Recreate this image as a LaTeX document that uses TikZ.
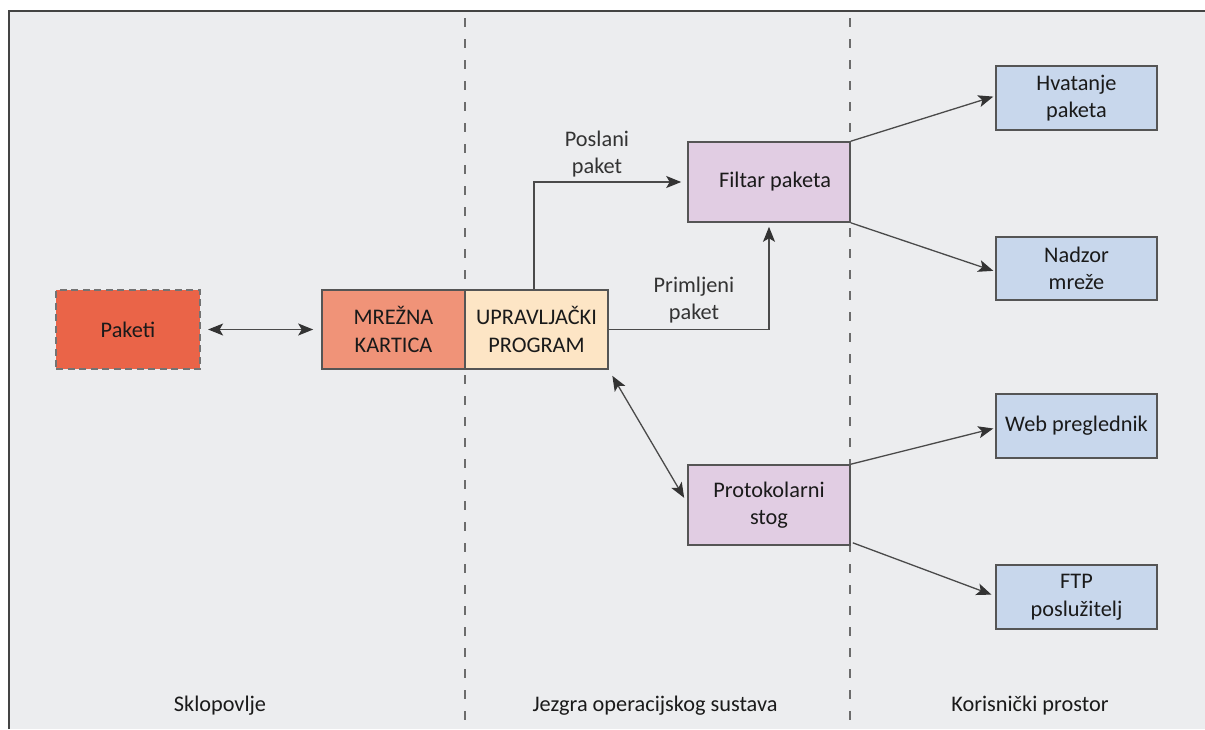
\documentclass[tikz,border=0pt]{standalone}
\usepackage{fontspec}
\setmainfont{Carlito}
\usetikzlibrary{arrows.meta}
\definecolor{bggray}{HTML}{ECEDEF}
\definecolor{frame}{HTML}{444444}
\definecolor{pakfill}{HTML}{EA6448}
\definecolor{mrefill}{HTML}{F09378}
\definecolor{uprfill}{HTML}{FDE5C5}
\definecolor{lavfill}{HTML}{E1CDE3}
\definecolor{bluefill}{HTML}{C8D7EC}
\definecolor{boxline}{HTML}{555555}
\definecolor{arrline}{HTML}{4A4A4A}
\definecolor{tipcol}{HTML}{333333}
\definecolor{txt}{HTML}{1A1A1A}
\definecolor{lbltxt}{HTML}{333333}
\tikzset{
  box/.style={draw=boxline, line width=1.6pt, align=center, inner sep=0pt, text=txt,
    font=\fontsize{22.3}{27.5}\selectfont},
  tip/.style={Stealth[length=15pt,width=12pt,inset=3.5pt,color=tipcol]},
  conn/.style={draw=arrline, line width=1.3pt, -{Stealth[length=15pt,width=12pt,inset=3.5pt,color=tipcol]}},
  dconn/.style={draw=arrline, line width=1.3pt, {Stealth[length=15pt,width=12pt,inset=3.5pt,color=tipcol]}-{Stealth[length=15pt,width=12pt,inset=3.5pt,color=tipcol]}},
  divider/.style={draw=gray!85!black, line width=1.8pt, dash pattern=on 9pt off 12pt},
  lbl/.style={align=center, text=lbltxt, font=\fontsize{22.3}{26.5}\selectfont, inner sep=0pt},
  zone/.style={text=txt, font=\fontsize{22.3}{26}\selectfont, inner sep=0pt}
}
\begin{document}
\begin{tikzpicture}[x=1pt,y=-1pt]
\useasboundingbox (0,0) rectangle (1205,729);
\fill[white] (0,0) rectangle (1205,729);
\fill[bggray] (8,10) rectangle (1205,729);
\draw[frame, line width=2.5pt] (9,729) -- (9,11.2) -- (1205,11.2);
% dividers
\draw[divider] (465,18) -- (465,729);
\draw[divider] (850,18) -- (850,729);
% nodes
\node[box, draw=gray!90!black, dash pattern=on 7pt off 4.5pt, line width=2.2pt, fill=pakfill, minimum width=144pt, minimum height=79pt] (pak) at (128,329.5) {Paketi};
\node[box, fill=mrefill, minimum width=143pt, minimum height=79pt] (mre) at (393.5,329.5) {MREŽNA\\KARTICA};
\node[box, fill=uprfill, minimum width=143pt, minimum height=79pt] (upr) at (536.5,329.5) {UPRAVLJAČKI\\PROGRAM};
\node[box, fill=lavfill, minimum width=162pt, minimum height=80pt] (fil) at (769,182) {\hspace*{12pt}Filtar paketa};
\node[box, fill=lavfill, minimum width=162pt, minimum height=80pt] (pro) at (769,505) {Protokolarni\\stog};
\node[box, fill=bluefill, minimum width=161pt, minimum height=64pt] (hva) at (1076.5,98) {Hvatanje\\paketa};
\node[box, fill=bluefill, minimum width=161pt, minimum height=63pt] (nad) at (1076.5,268.5) {Nadzor\\mreže};
\node[box, fill=bluefill, minimum width=161pt, minimum height=64pt] (web) at (1076.5,426) {Web preglednik};
\node[box, fill=bluefill, minimum width=161pt, minimum height=64pt] (ftp) at (1076.5,597) {FTP\\poslužitelj};
% labels
\node[lbl] (posl) at (597,154) {Poslani\\paket};
\node[lbl] (prim) at (694,300) {Primljeni\\paket};
\node[zone] (z1) at (220,706) {Sklopovlje};
\node[zone] (z2) at (655,706) {Jezgra operacijskog sustava};
\node[zone] (z3) at (1030,706) {Korisnički prostor};
% connectors
\draw[dconn, shorten <=7pt, shorten >=8pt] (pak.east) -- (mre.west);
\draw[conn, shorten >=6pt] ([xshift=-2.5pt]upr.north) |- (fil.west);
\draw[conn, shorten >=4pt] (upr.east) -| (fil.south);
\draw[dconn, shorten <=7pt, shorten >=6pt] (upr.south east) -- ([yshift=2pt]pro.west);
\draw[conn, shorten >=2pt] (fil.north east) -- ([yshift=2pt]hva.west);
\draw[conn, shorten >=2pt] (fil.south east) -- ([yshift=-3pt]nad.west);
\draw[conn, shorten >=2pt] (pro.north east) -- ([yshift=-2pt]web.west);
\draw[conn, shorten >=4pt] ([shift={(2pt,3pt)}]pro.south east) -- ([yshift=1pt]ftp.west);
\end{tikzpicture}
\end{document}
